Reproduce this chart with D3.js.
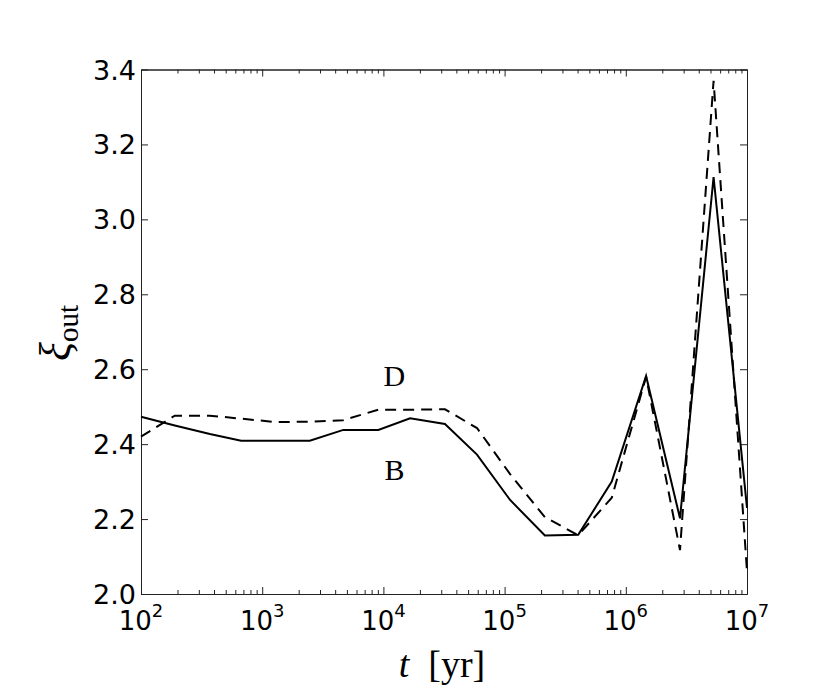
<!DOCTYPE html>
<html>
<head>
<meta charset="utf-8">
<script src="https://cdn.jsdelivr.net/npm/d3@7"></script>
<style>
  body { margin: 0; background: #fff; }
  svg { display: block; }
</style>
</head>
<body>
<svg id="chart"></svg>
<script>
// time grid [yr] and xi_out for the two runs
var tYears = [100, 190, 370, 670, 1290, 2470, 4670, 9080, 16600, 32200, 59200,
              111000, 215000, 405000, 766000, 1470000, 2800000, 5300000, 10000000]
var xiB = [2.473, 2.450, 2.427, 2.409, 2.409, 2.409, 2.438, 2.438, 2.469, 2.454, 2.372,
           2.251, 2.156, 2.158, 2.300, 2.582, 2.202, 3.113, 2.230]
var xiD = [2.420, 2.476, 2.476, 2.468, 2.459, 2.460, 2.464, 2.492, 2.492, 2.493, 2.443,
           2.320, 2.205, 2.157, 2.257, 2.580, 2.117, 3.370, 2.060]
var yTicks = [2.0, 2.2, 2.4, 2.6, 2.8, 3.0, 3.2, 3.4]
var xTickExps = [2, 3, 4, 5, 6, 7]
var runLabels = [{name: 'D', t: 10000, xi: 2.555}, {name: 'B', t: 10000, xi: 2.305}]

var width = 830, height = 692
var margin = {left: 141, top: 69.5, right: 83, bottom: 98}
var plotW = width - margin.left - margin.right
var plotH = height - margin.top - margin.bottom

var svg = d3.select('#chart')
    .attr('width', width)
    .attr('height', height)

var g = svg.append('g')
    .attr('transform', 'translate(' + margin.left + ',' + margin.top + ')')

var xScale = d3.scaleLog()
    .domain([1e2, 1e7])
    .range([0, plotW])
var yScale = d3.scaleLinear()
    .domain([2.0, 3.4])
    .range([plotH, 0])

var majorX = xTickExps.map(function (e) { return Math.pow(10, e) })
var minorX = xScale.ticks().filter(function (t) {
    return majorX.indexOf(t) < 0
})

function styleAxis(sel) {
    sel.select('.domain').attr('stroke', '#222').attr('stroke-width', 1)
    sel.selectAll('.tick line').attr('stroke', '#222').attr('stroke-width', 1)
    sel.selectAll('.tick text').remove()
}

// bottom + top: major and minor ticks pointing inwards
g.append('g')
    .attr('transform', 'translate(0,' + plotH + ')')
    .call(d3.axisBottom(xScale).tickValues(minorX).tickSize(-4).tickSizeOuter(0))
    .call(styleAxis)
g.append('g')
    .attr('transform', 'translate(0,' + plotH + ')')
    .call(d3.axisBottom(xScale).tickValues(majorX).tickSize(-7).tickSizeOuter(0))
    .call(styleAxis)
g.append('g')
    .call(d3.axisTop(xScale).tickValues(minorX).tickSize(-4).tickSizeOuter(0))
    .call(styleAxis)
g.append('g')
    .call(d3.axisTop(xScale).tickValues(majorX).tickSize(-7).tickSizeOuter(0))
    .call(styleAxis)

g.append('g')
    .call(d3.axisLeft(yScale).tickValues(yTicks).tickSize(-7).tickSizeOuter(0))
    .call(styleAxis)
g.append('g')
    .attr('transform', 'translate(' + plotW + ',0)')
    .call(d3.axisRight(yScale).tickValues(yTicks).tickSize(-7).tickSizeOuter(0))
    .call(styleAxis)

// tick labels
var tickFont = "'DejaVu Sans', sans-serif"
g.selectAll('.ylab')
    .data(yTicks)
    .enter()
    .append('text')
    .attr('x', -5)
    .attr('y', function (d) { return yScale(d) + 10 })
    .attr('text-anchor', 'end')
    .attr('font-family', tickFont)
    .attr('font-size', 27)
    .text(function (d) { return d.toFixed(1) })

var xlab = g.selectAll('.xlab')
    .data(xTickExps)
    .enter()
    .append('text')
    .attr('x', function (d) { return xScale(Math.pow(10, d)) })
    .attr('y', plotH + 36)
    .attr('text-anchor', 'middle')
    .attr('font-family', tickFont)
    .attr('font-size', 26)
xlab.append('tspan').text('10')
xlab.append('tspan')
    .attr('dy', -13)
    .attr('font-size', 18)
    .text(function (d) { return d })

// the two curves
var line = d3.line()
    .x(function (d) { return xScale(d[0]) })
    .y(function (d) { return yScale(d[1]) })

g.append('path')
    .datum(d3.zip(tYears, xiB))
    .attr('fill', 'none')
    .attr('stroke', '#000')
    .attr('stroke-width', 2)
    .attr('d', line)

g.append('path')
    .datum(d3.zip(tYears, xiD))
    .attr('fill', 'none')
    .attr('stroke', '#000')
    .attr('stroke-width', 2)
    .attr('stroke-dasharray', '11,7')
    .attr('d', line)

// run labels
g.selectAll('.runlab')
    .data(runLabels)
    .enter()
    .append('text')
    .attr('x', function (d) { return xScale(d.t) + 11 })
    .attr('y', function (d) { return yScale(d.xi) })
    .attr('text-anchor', 'middle')
    .attr('font-family', "'Liberation Serif', serif")
    .attr('font-size', 30)
    .text(function (d) { return d.name })

// axis titles
var xTitle = svg.append('text')
    .attr('x', margin.left + plotW / 2 - 2)
    .attr('y', 677)
    .attr('text-anchor', 'middle')
    .attr('font-family', "'Liberation Serif', serif")
    .attr('font-size', 38)
    .attr('xml:space', 'preserve')
xTitle.append('tspan').attr('font-style', 'italic').text('t')
xTitle.append('tspan').text('\u00a0\u00a0[yr]')

var yTitle = svg.append('text')
    .attr('transform', 'translate(70,333) rotate(-90)')
    .attr('text-anchor', 'middle')
    .attr('font-family', "'Liberation Serif', serif")
    .attr('font-size', 44)
yTitle.append('tspan').attr('font-style', 'italic').text('\u03be')
yTitle.append('tspan').attr('dy', 8).attr('font-size', 29).text('out')
</script>
</body>
</html>
